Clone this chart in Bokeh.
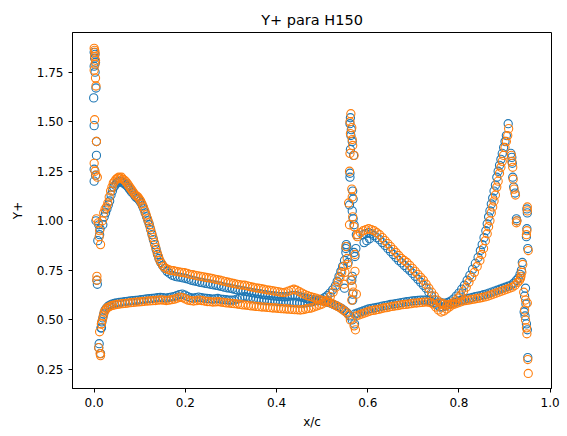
from bokeh.plotting import figure
from bokeh.models import Range1d, FixedTicker, PrintfTickFormatter
from bokeh.embed import file_html
from bokeh.resources import INLINE

# Y+ along the chord, two runs (blue drawn first, orange on top)

# ---- blue run -------------------------------------------------------------
blue_leading_edge = [
    (0.000, 1.85), (0.002, 1.84), (0.001, 1.82), (0.003, 1.80), (0.000, 1.78),
    (0.002, 1.75), (0.004, 1.67), (-0.001, 1.62), (0.000, 1.48), (0.005, 1.40),
    (0.005, 1.33), (0.000, 1.26), (0.003, 1.23), (0.000, 1.20), (0.004, 1.00),
    (0.010, 0.98), (0.013, 0.96), (0.012, 0.93), (0.008, 0.90), (0.006, 0.70),
    (0.007, 0.68), (0.016, 0.46), (0.011, 0.38), (0.010, 0.36), (0.014, 0.33),
]
blue_front_upper = [
    (0.019, 0.98), (0.022, 1.02), (0.025, 1.04), (0.028, 1.06), (0.031, 1.08),
    (0.034, 1.10), (0.037, 1.13), (0.040, 1.15), (0.043, 1.17), (0.046, 1.18),
    (0.049, 1.19), (0.052, 1.195), (0.055, 1.20), (0.058, 1.20), (0.061, 1.195),
    (0.064, 1.19), (0.067, 1.19), (0.070, 1.18), (0.073, 1.175), (0.076, 1.165),
    (0.079, 1.155), (0.082, 1.145), (0.085, 1.14), (0.088, 1.13), (0.091, 1.12),
    (0.094, 1.115), (0.097, 1.11), (0.100, 1.10), (0.103, 1.09), (0.106, 1.075),
    (0.109, 1.06), (0.112, 1.04), (0.115, 1.02), (0.118, 1.00), (0.121, 0.98),
    (0.124, 0.955), (0.127, 0.93), (0.130, 0.905), (0.133, 0.88), (0.136, 0.855),
    (0.139, 0.83), (0.142, 0.81), (0.146, 0.79), (0.150, 0.775), (0.155, 0.76),
    (0.160, 0.745), (0.165, 0.735), (0.171, 0.725), (0.177, 0.72), (0.183, 0.717),
    (0.189, 0.715), (0.195, 0.712), (0.201, 0.709), (0.207, 0.705), (0.213, 0.70),
    (0.219, 0.697), (0.225, 0.694), (0.231, 0.69), (0.237, 0.688), (0.243, 0.685),
    (0.249, 0.683), (0.255, 0.68), (0.261, 0.677), (0.267, 0.675), (0.273, 0.672),
    (0.279, 0.669), (0.285, 0.665), (0.291, 0.662), (0.297, 0.66), (0.303, 0.657),
    (0.309, 0.654), (0.315, 0.651), (0.321, 0.649), (0.327, 0.646), (0.333, 0.644),
    (0.339, 0.641), (0.345, 0.638), (0.351, 0.636), (0.357, 0.634), (0.363, 0.632),
    (0.369, 0.629), (0.375, 0.627), (0.381, 0.625), (0.387, 0.623), (0.393, 0.621),
    (0.399, 0.62), (0.405, 0.618), (0.411, 0.617), (0.417, 0.616), (0.423, 0.617),
    (0.429, 0.62), (0.435, 0.624), (0.441, 0.624), (0.447, 0.62), (0.453, 0.616),
    (0.459, 0.612), (0.465, 0.608), (0.471, 0.605), (0.477, 0.603), (0.483, 0.601),
    (0.489, 0.599), (0.495, 0.597), (0.501, 0.595), (0.507, 0.592), (0.513, 0.588),
    (0.519, 0.584), (0.525, 0.578), (0.531, 0.572), (0.537, 0.565), (0.543, 0.557),
    (0.549, 0.547), (0.555, 0.535), (0.561, 0.52),
]
blue_front_lower = [
    (0.015, 0.46), (0.017, 0.49), (0.019, 0.51), (0.021, 0.53), (0.024, 0.55),
    (0.027, 0.56), (0.031, 0.57), (0.035, 0.575), (0.039, 0.58), (0.044, 0.583),
    (0.049, 0.586), (0.055, 0.588), (0.061, 0.59), (0.067, 0.592), (0.073, 0.594),
    (0.079, 0.596), (0.085, 0.597), (0.091, 0.598), (0.097, 0.60), (0.103, 0.602),
    (0.109, 0.604), (0.115, 0.606), (0.121, 0.607), (0.127, 0.608), (0.133, 0.61),
    (0.139, 0.612), (0.145, 0.613), (0.151, 0.612), (0.157, 0.61), (0.163, 0.612),
    (0.169, 0.615), (0.175, 0.618), (0.181, 0.622), (0.187, 0.628), (0.193, 0.63),
    (0.199, 0.625), (0.205, 0.618), (0.211, 0.612), (0.217, 0.61), (0.223, 0.612),
    (0.229, 0.615), (0.235, 0.612), (0.241, 0.61), (0.247, 0.608), (0.253, 0.607),
    (0.259, 0.605), (0.265, 0.606), (0.271, 0.608), (0.277, 0.605), (0.283, 0.603),
    (0.289, 0.602), (0.295, 0.60), (0.301, 0.60), (0.307, 0.60), (0.313, 0.605),
    (0.319, 0.61), (0.325, 0.615), (0.331, 0.617), (0.337, 0.614), (0.343, 0.61),
    (0.349, 0.607), (0.355, 0.605), (0.361, 0.603), (0.367, 0.60), (0.373, 0.60),
    (0.379, 0.598), (0.385, 0.597), (0.391, 0.596), (0.397, 0.595), (0.403, 0.594),
    (0.409, 0.593), (0.415, 0.592), (0.421, 0.59), (0.427, 0.59), (0.433, 0.588),
    (0.439, 0.587), (0.445, 0.586), (0.451, 0.585), (0.457, 0.585), (0.463, 0.586),
    (0.469, 0.588), (0.475, 0.59), (0.481, 0.593), (0.487, 0.597), (0.493, 0.60),
    (0.499, 0.605), (0.505, 0.612), (0.511, 0.622), (0.517, 0.635), (0.523, 0.652),
    (0.529, 0.672), (0.533, 0.695), (0.537, 0.72), (0.541, 0.745), (0.545, 0.77),
    (0.549, 0.80), (0.552, 0.84), (0.554, 0.87),
]
blue_mid_spike = [
    (0.562, 1.52), (0.561, 1.49), (0.564, 1.46), (0.563, 1.43), (0.566, 1.40),
    (0.562, 1.36), (0.569, 1.33), (0.561, 1.24), (0.561, 1.22), (0.567, 1.15),
    (0.568, 1.11), (0.560, 1.08), (0.566, 1.05), (0.568, 1.01), (0.570, 0.98),
    (0.575, 0.93), (0.553, 0.88), (0.552, 0.86), (0.570, 0.84), (0.574, 0.86),
    (0.572, 0.82), (0.557, 0.79), (0.565, 0.70), (0.566, 0.72), (0.549, 0.66),
    (0.567, 0.63), (0.567, 0.60), (0.566, 0.50), (0.571, 0.48),
]
blue_aft_upper = [
    (0.592, 0.89), (0.598, 0.90), (0.604, 0.91), (0.590, 0.93), (0.596, 0.935),
    (0.602, 0.94), (0.608, 0.935), (0.614, 0.925), (0.620, 0.915), (0.626, 0.905),
    (0.632, 0.89), (0.638, 0.875), (0.644, 0.86), (0.650, 0.845), (0.656, 0.83),
    (0.662, 0.815), (0.668, 0.80), (0.674, 0.788), (0.680, 0.775), (0.686, 0.762),
    (0.692, 0.75), (0.698, 0.735), (0.704, 0.72), (0.710, 0.705), (0.716, 0.69),
    (0.722, 0.675), (0.728, 0.66), (0.734, 0.64), (0.740, 0.62), (0.746, 0.60),
    (0.752, 0.585),
]
blue_aft_lower = [
    (0.572, 0.53), (0.578, 0.535), (0.584, 0.54), (0.590, 0.545), (0.596, 0.55),
    (0.602, 0.555), (0.608, 0.558), (0.614, 0.56), (0.620, 0.563), (0.626, 0.566),
    (0.632, 0.57), (0.638, 0.572), (0.644, 0.575), (0.650, 0.578), (0.656, 0.58),
    (0.662, 0.582), (0.668, 0.585), (0.674, 0.587), (0.680, 0.59), (0.686, 0.592),
    (0.692, 0.594), (0.698, 0.596), (0.704, 0.597), (0.710, 0.598), (0.716, 0.60),
    (0.722, 0.60), (0.728, 0.60), (0.734, 0.598), (0.740, 0.592), (0.746, 0.585),
    (0.752, 0.575), (0.758, 0.565), (0.764, 0.565), (0.770, 0.57), (0.776, 0.575),
    (0.782, 0.58), (0.788, 0.585), (0.794, 0.59), (0.800, 0.595), (0.806, 0.60),
    (0.812, 0.605), (0.818, 0.608), (0.824, 0.61), (0.830, 0.613), (0.836, 0.617),
    (0.842, 0.62), (0.848, 0.623), (0.854, 0.627), (0.860, 0.63), (0.866, 0.635),
    (0.872, 0.64), (0.878, 0.645), (0.884, 0.65), (0.890, 0.655), (0.896, 0.66),
    (0.902, 0.665), (0.908, 0.67), (0.914, 0.675), (0.920, 0.685), (0.926, 0.70),
    (0.930, 0.71), (0.934, 0.73),
]
blue_aft_rise = [
    (0.758, 0.59), (0.764, 0.585), (0.770, 0.585), (0.776, 0.588), (0.782, 0.595),
    (0.788, 0.605), (0.794, 0.62), (0.800, 0.635), (0.806, 0.655), (0.812, 0.675),
    (0.818, 0.70), (0.824, 0.725), (0.830, 0.755), (0.836, 0.785), (0.842, 0.815),
    (0.847, 0.85), (0.851, 0.88), (0.855, 0.915), (0.859, 0.95), (0.862, 0.985),
    (0.865, 1.02), (0.868, 1.05), (0.871, 1.085), (0.874, 1.115), (0.877, 1.15),
    (0.880, 1.18), (0.883, 1.22), (0.886, 1.25), (0.889, 1.28), (0.892, 1.31),
    (0.895, 1.34), (0.898, 1.37), (0.901, 1.40), (0.904, 1.43), (0.908, 1.49),
    (0.914, 1.34), (0.916, 1.32), (0.917, 1.29), (0.918, 1.22), (0.920, 1.17),
    (0.923, 1.14), (0.926, 1.01), (0.927, 1.00),
]
blue_trailing_edge = [
    (0.949, 1.06), (0.950, 1.04), (0.949, 0.96), (0.948, 0.92), (0.951, 0.86),
    (0.939, 0.79), (0.937, 0.75), (0.946, 0.66), (0.944, 0.62), (0.947, 0.58),
    (0.943, 0.54), (0.945, 0.52), (0.948, 0.48), (0.950, 0.45), (0.951, 0.31),
]

# ---- orange run -----------------------------------------------------------
orange_leading_edge = [
    (0.000, 1.87), (0.001, 1.86), (0.002, 1.85), (0.001, 1.83), (0.003, 1.81),
    (0.002, 1.79), (0.000, 1.76), (0.003, 1.72), (0.004, 1.68), (0.001, 1.51),
    (0.005, 1.40), (0.000, 1.29), (0.002, 1.25), (0.004, 1.23), (0.007, 1.22),
    (0.005, 1.01), (0.009, 0.99), (0.012, 0.95), (0.011, 0.92), (0.014, 0.88),
    (0.006, 0.72), (0.006, 0.70), (0.016, 0.48), (0.012, 0.44), (0.010, 0.36),
    (0.013, 0.33), (0.014, 0.32),
]
orange_front_upper = [
    (0.018, 1.00), (0.021, 1.04), (0.024, 1.06), (0.027, 1.07), (0.030, 1.09),
    (0.033, 1.12), (0.036, 1.15), (0.039, 1.17), (0.042, 1.19), (0.045, 1.20),
    (0.048, 1.21), (0.051, 1.215), (0.054, 1.22), (0.057, 1.215), (0.060, 1.22),
    (0.063, 1.21), (0.066, 1.205), (0.069, 1.20), (0.072, 1.19), (0.075, 1.18),
    (0.078, 1.17), (0.081, 1.16), (0.084, 1.15), (0.087, 1.14), (0.090, 1.13),
    (0.093, 1.125), (0.096, 1.12), (0.099, 1.11), (0.102, 1.10), (0.105, 1.085),
    (0.108, 1.07), (0.111, 1.05), (0.114, 1.03), (0.117, 1.01), (0.120, 0.99),
    (0.123, 0.965), (0.126, 0.94), (0.129, 0.915), (0.132, 0.89), (0.135, 0.865),
    (0.138, 0.84), (0.141, 0.82), (0.144, 0.80), (0.148, 0.785), (0.152, 0.77),
    (0.157, 0.76), (0.162, 0.755), (0.168, 0.75), (0.174, 0.748), (0.180, 0.745),
    (0.186, 0.742), (0.192, 0.74), (0.198, 0.738), (0.204, 0.735), (0.210, 0.73),
    (0.216, 0.728), (0.222, 0.725), (0.228, 0.722), (0.234, 0.72), (0.240, 0.717),
    (0.246, 0.714), (0.252, 0.712), (0.258, 0.71), (0.264, 0.706), (0.270, 0.703),
    (0.276, 0.70), (0.282, 0.697), (0.288, 0.693), (0.294, 0.69), (0.300, 0.687),
    (0.306, 0.684), (0.312, 0.681), (0.318, 0.678), (0.324, 0.676), (0.330, 0.675),
    (0.336, 0.672), (0.342, 0.668), (0.348, 0.665), (0.354, 0.662), (0.360, 0.66),
    (0.366, 0.658), (0.372, 0.655), (0.378, 0.652), (0.384, 0.65), (0.390, 0.648),
    (0.396, 0.645), (0.402, 0.643), (0.408, 0.64), (0.414, 0.638), (0.420, 0.64),
    (0.426, 0.645), (0.432, 0.65), (0.438, 0.655), (0.444, 0.65), (0.450, 0.642),
    (0.456, 0.635), (0.462, 0.628), (0.468, 0.622), (0.474, 0.618), (0.480, 0.614),
    (0.486, 0.61), (0.492, 0.605), (0.498, 0.60), (0.504, 0.596), (0.510, 0.592),
    (0.516, 0.588), (0.522, 0.582), (0.528, 0.575), (0.534, 0.568), (0.540, 0.56),
    (0.546, 0.55), (0.552, 0.54), (0.558, 0.525),
]
orange_front_lower = [
    (0.016, 0.48), (0.018, 0.50), (0.020, 0.52), (0.022, 0.54), (0.025, 0.55),
    (0.028, 0.56), (0.032, 0.565), (0.036, 0.57), (0.040, 0.573), (0.045, 0.576),
    (0.050, 0.578), (0.056, 0.58), (0.062, 0.582), (0.068, 0.583), (0.074, 0.585),
    (0.080, 0.587), (0.086, 0.588), (0.092, 0.59), (0.098, 0.591), (0.104, 0.592),
    (0.110, 0.594), (0.116, 0.595), (0.122, 0.596), (0.128, 0.597), (0.134, 0.598),
    (0.140, 0.60), (0.146, 0.601), (0.152, 0.60), (0.158, 0.598), (0.164, 0.60),
    (0.170, 0.602), (0.176, 0.605), (0.182, 0.61), (0.188, 0.615), (0.194, 0.612),
    (0.200, 0.606), (0.206, 0.60), (0.212, 0.597), (0.218, 0.595), (0.224, 0.597),
    (0.230, 0.60), (0.236, 0.598), (0.242, 0.595), (0.248, 0.593), (0.254, 0.592),
    (0.260, 0.59), (0.266, 0.591), (0.272, 0.592), (0.278, 0.59), (0.284, 0.588),
    (0.290, 0.586), (0.296, 0.585), (0.302, 0.583), (0.308, 0.582), (0.314, 0.58),
    (0.320, 0.578), (0.326, 0.576), (0.332, 0.575), (0.338, 0.573), (0.344, 0.571),
    (0.350, 0.57), (0.356, 0.568), (0.362, 0.567), (0.368, 0.565), (0.374, 0.565),
    (0.380, 0.563), (0.386, 0.562), (0.392, 0.56), (0.398, 0.56), (0.404, 0.558),
    (0.410, 0.557), (0.416, 0.556), (0.422, 0.555), (0.428, 0.554), (0.434, 0.553),
    (0.440, 0.552), (0.446, 0.551), (0.452, 0.55), (0.458, 0.552), (0.464, 0.555),
    (0.470, 0.558), (0.476, 0.56), (0.482, 0.565), (0.488, 0.57), (0.494, 0.575),
    (0.500, 0.58), (0.506, 0.59), (0.512, 0.60), (0.518, 0.618), (0.524, 0.64),
    (0.530, 0.665), (0.535, 0.69), (0.539, 0.715), (0.543, 0.74), (0.547, 0.77),
]
orange_mid_spike = [
    (0.563, 1.54), (0.561, 1.50), (0.565, 1.47), (0.562, 1.44), (0.566, 1.41),
    (0.567, 1.38), (0.561, 1.34), (0.570, 1.33), (0.560, 1.25), (0.565, 1.16),
    (0.566, 1.12), (0.558, 1.09), (0.567, 1.02), (0.560, 0.98), (0.570, 0.97),
    (0.577, 0.92), (0.552, 0.87), (0.572, 0.83), (0.555, 0.81), (0.556, 0.78),
    (0.550, 0.74), (0.572, 0.745), (0.563, 0.70), (0.548, 0.68), (0.566, 0.67),
    (0.568, 0.64), (0.575, 0.63), (0.565, 0.60), (0.562, 0.50), (0.570, 0.47),
    (0.573, 0.45),
]
orange_aft_upper = [
    (0.578, 0.93), (0.584, 0.94), (0.590, 0.95), (0.596, 0.955), (0.602, 0.96),
    (0.608, 0.955), (0.614, 0.95), (0.620, 0.94), (0.626, 0.93), (0.632, 0.915),
    (0.638, 0.90), (0.644, 0.885), (0.650, 0.87), (0.656, 0.855), (0.662, 0.84),
    (0.668, 0.825), (0.674, 0.81), (0.680, 0.80), (0.686, 0.79), (0.692, 0.775),
    (0.698, 0.76), (0.704, 0.745), (0.710, 0.73), (0.716, 0.715), (0.722, 0.70),
    (0.728, 0.68), (0.734, 0.66), (0.740, 0.64), (0.746, 0.62), (0.752, 0.60),
    (0.758, 0.585),
]
orange_aft_lower = [
    (0.575, 0.52), (0.581, 0.525), (0.587, 0.53), (0.593, 0.535), (0.599, 0.54),
    (0.605, 0.545), (0.611, 0.548), (0.617, 0.55), (0.623, 0.553), (0.629, 0.556),
    (0.635, 0.56), (0.641, 0.562), (0.647, 0.565), (0.653, 0.568), (0.659, 0.57),
    (0.665, 0.572), (0.671, 0.575), (0.677, 0.577), (0.683, 0.578), (0.689, 0.58),
    (0.695, 0.582), (0.701, 0.585), (0.707, 0.585), (0.713, 0.587), (0.719, 0.588),
    (0.725, 0.59), (0.731, 0.59), (0.737, 0.588), (0.743, 0.58), (0.749, 0.565),
    (0.755, 0.55), (0.761, 0.54), (0.767, 0.545), (0.773, 0.555), (0.779, 0.565),
    (0.785, 0.575), (0.791, 0.58), (0.797, 0.585), (0.803, 0.59), (0.809, 0.595),
    (0.815, 0.598), (0.821, 0.60), (0.827, 0.603), (0.833, 0.605), (0.839, 0.608),
    (0.845, 0.61), (0.851, 0.613), (0.857, 0.616), (0.863, 0.62), (0.869, 0.625),
    (0.875, 0.63), (0.881, 0.635), (0.887, 0.64), (0.893, 0.645), (0.899, 0.65),
    (0.905, 0.655), (0.911, 0.66), (0.917, 0.665), (0.923, 0.675), (0.929, 0.69),
    (0.933, 0.70), (0.936, 0.72),
]
orange_aft_rise = [
    (0.762, 0.585), (0.768, 0.58), (0.774, 0.575), (0.780, 0.578), (0.786, 0.585),
    (0.792, 0.595), (0.798, 0.61), (0.804, 0.625), (0.810, 0.645), (0.816, 0.665),
    (0.822, 0.69), (0.828, 0.715), (0.834, 0.74), (0.840, 0.77), (0.846, 0.80),
    (0.850, 0.83), (0.854, 0.86), (0.858, 0.90), (0.862, 0.935), (0.865, 0.97),
    (0.868, 1.00), (0.871, 1.04), (0.874, 1.07), (0.877, 1.10), (0.880, 1.13),
    (0.883, 1.17), (0.886, 1.20), (0.889, 1.24), (0.892, 1.27), (0.895, 1.30),
    (0.898, 1.33), (0.901, 1.37), (0.904, 1.40), (0.907, 1.43), (0.909, 1.465),
    (0.915, 1.33), (0.916, 1.30), (0.918, 1.27), (0.919, 1.21), (0.921, 1.16),
    (0.924, 1.13), (0.926, 0.99), (0.927, 1.00),
]
orange_trailing_edge = [
    (0.950, 1.07), (0.950, 1.05), (0.949, 0.95), (0.948, 0.93), (0.952, 0.85),
    (0.940, 0.78), (0.938, 0.74), (0.935, 0.71), (0.942, 0.64), (0.946, 0.60),
    (0.950, 0.585), (0.944, 0.55), (0.946, 0.50), (0.948, 0.46), (0.949, 0.43),
    (0.951, 0.30), (0.952, 0.23),
]

x_ticks = [0.0, 0.2, 0.4, 0.6, 0.8, 1.0]
y_ticks = [0.25, 0.50, 0.75, 1.00, 1.25, 1.50, 1.75]

blue_run = (blue_leading_edge + blue_front_upper + blue_front_lower + blue_mid_spike
            + blue_aft_upper + blue_aft_lower + blue_aft_rise + blue_trailing_edge)
orange_run = (orange_leading_edge + orange_front_upper + orange_front_lower
              + orange_mid_spike + orange_aft_upper + orange_aft_lower
              + orange_aft_rise + orange_trailing_edge)

FONT = "DejaVu Sans"

p = figure(
    width=567, height=436,
    output_backend="svg", toolbar_location=None,
    x_range=Range1d(-0.0475, 1.003), y_range=Range1d(0.154, 1.95),
    min_border_left=72, min_border_right=16, min_border_top=32, min_border_bottom=48,
    title="Y+ para H150",
)
p.title.align = "center"
p.title.text_font = FONT
p.title.text_font_size = "14.5px"
p.title.text_font_style = "normal"
p.title.text_color = "black"

p.xgrid.visible = False
p.ygrid.visible = False
p.outline_line_color = "black"
p.outline_line_alpha = 1.0
p.outline_line_width = 1
p.background_fill_color = "white"
p.border_fill_color = "white"

for ax in (p.xaxis[0], p.yaxis[0]):
    ax.axis_line_color = "black"
    ax.major_tick_line_color = "black"
    ax.major_tick_out = 4
    ax.major_tick_in = 0
    ax.minor_tick_out = 0
    ax.minor_tick_in = 0
    ax.major_label_text_font = FONT
    ax.major_label_text_font_size = "12px"
    ax.major_label_text_color = "black"
    ax.axis_label_text_font = FONT
    ax.axis_label_text_font_size = "12px"
    ax.axis_label_text_font_style = "normal"
    ax.axis_label_text_color = "black"

p.xaxis[0].ticker = FixedTicker(ticks=x_ticks)
p.xaxis[0].formatter = PrintfTickFormatter(format="%.1f")
p.xaxis[0].axis_label = "x/c"
p.yaxis[0].ticker = FixedTicker(ticks=y_ticks)
p.yaxis[0].formatter = PrintfTickFormatter(format="%.2f")
p.yaxis[0].axis_label = "Y+"
p.yaxis[0].axis_label_standoff = 9

for run, color in ((blue_run, "#1f77b4"), (orange_run, "#ff7f0e")):
    xs = [pt[0] for pt in run]
    ys = [pt[1] for pt in run]
    p.scatter(xs, ys, marker="circle", size=8.2, fill_color=None,
              line_color=color, line_width=1.1)

open("out.html", "w").write(file_html(p, INLINE))
